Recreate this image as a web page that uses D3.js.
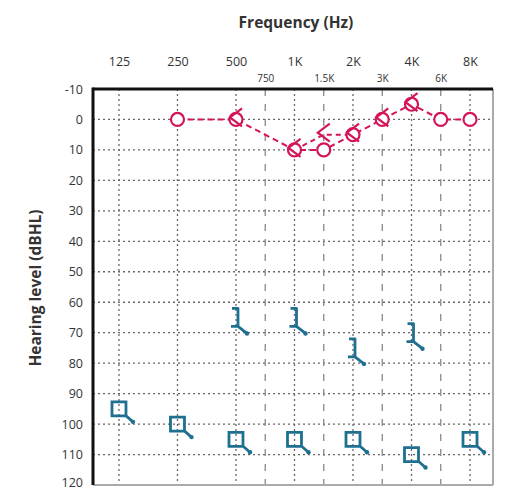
<!DOCTYPE html>
<html>
<head>
<meta charset="utf-8">
<script src="https://cdn.jsdelivr.net/npm/d3@7"></script>
<style>
  body { margin: 0; background: #fff; }
  text { font-family: "Open Sans", "Noto Sans", sans-serif; fill: #333; }
</style>
</head>
<body>
<script>
"use strict";

// octave frequencies (top row) and half-octave ones (second row)
var octaves = [125, 250, 500, 1000, 2000, 4000, 8000];
var octaveLabels = ["125", "250", "500", "1K", "2K", "4K", "8K"];
var halfOctaves = [750, 1500, 3000, 6000];
var halfLabels = ["750", "1.5K", "3K", "6K"];
var levelTicks = [-10, 0, 10, 20, 30, 40, 50, 60, 70, 80, 90, 100, 110, 120];

// right ear, air conduction (circles)
var rightAirFreq = [250, 500, 1000, 1500, 2000, 3000, 4000, 6000, 8000];
var rightAirDb = [0, 0, 10, 10, 5, 0, -5, 0, 0];
// right ear, bone conduction (<)
var rightBoneFreq = [1000, 1500, 2000];
var rightBoneDb = [10, 5, 5];
var rightBoneMarkFreq = [500, 1000, 1500, 2000, 3000, 4000];
var rightBoneMarkDb = [0, 10, 5, 5, 0, -5];
// left ear, masked bone, no response (])
var leftBoneFreq = [500, 1000, 2000, 4000];
var leftBoneDb = [65, 65, 75, 70];
// left ear, masked air, no response (square)
var leftAirFreq = [125, 250, 500, 1000, 2000, 4000, 8000];
var leftAirDb = [95, 100, 105, 105, 105, 110, 105];

var red = "#d4145a";
var blue = "#1f6f91";

// audiogram position: octave index, half-octaves sit midway
function step(f) {
  var i = octaves.indexOf(f);
  if (i >= 0) return i;
  return octaves.indexOf(f / 1.5) + 0.5;
}

window.onload = function() {
  var width = 509, height = 491;
  var left = 93, top = 89, right = 493, bottom = 485;

  var svg = d3.select("body").append("svg")
      .attr("width", width)
      .attr("height", height);

  var xs = d3.scaleLinear().domain([-0.444, 6.393]).range([left, right]);
  var x = function(f) { return xs(step(f)); };
  var y = d3.scaleLinear().domain([-10, 120]).range([top, bottom]);

  // grid
  var grid = svg.append("g");
  grid.selectAll(".hg").data(levelTicks.slice(1, -1)).enter().append("line")
      .attr("x1", left).attr("x2", right)
      .attr("y1", function(d) { return y(d); })
      .attr("y2", function(d) { return y(d); })
      .attr("stroke", "#666").attr("stroke-width", 1.3)
      .attr("stroke-dasharray", "2,3");
  grid.selectAll(".vg").data(octaves).enter().append("line")
      .attr("x1", function(d) { return x(d); })
      .attr("x2", function(d) { return x(d); })
      .attr("y1", top).attr("y2", bottom)
      .attr("stroke", "#666").attr("stroke-width", 1.3)
      .attr("stroke-dasharray", "2,3");
  grid.selectAll(".vh").data(halfOctaves).enter().append("line")
      .attr("x1", function(d) { return x(d); })
      .attr("x2", function(d) { return x(d); })
      .attr("y1", top).attr("y2", bottom)
      .attr("stroke", "#888").attr("stroke-width", 1.3)
      .attr("stroke-dasharray", "7,8");

  // frame
  svg.append("line").attr("x1", right).attr("x2", right).attr("y1", top).attr("y2", bottom)
      .attr("stroke", "#aaa").attr("stroke-width", 2);
  svg.append("line").attr("x1", left).attr("x2", right).attr("y1", bottom).attr("y2", bottom)
      .attr("stroke", "#aaa").attr("stroke-width", 2);
  svg.append("line").attr("x1", left).attr("x2", left).attr("y1", top - 1.5).attr("y2", bottom)
      .attr("stroke", "#111").attr("stroke-width", 3);
  svg.append("line").attr("x1", left).attr("x2", right).attr("y1", top).attr("y2", top)
      .attr("stroke", "#111").attr("stroke-width", 3);

  // axes text
  var topAxis = d3.axisTop(xs).tickValues(octaves.map(step))
      .tickFormat(function(d, i) { return octaveLabels[i]; }).tickSize(0).tickPadding(0);
  var gTop = svg.append("g").attr("transform", "translate(0,66)").call(topAxis);
  gTop.select(".domain").remove();
  gTop.selectAll("text").style("font-size", "12.5px").attr("fill", "#333");

  var halfAxis = d3.axisTop(xs).tickValues(halfOctaves.map(step))
      .tickFormat(function(d, i) { return halfLabels[i]; }).tickSize(0).tickPadding(0);
  var gHalf = svg.append("g").attr("transform", "translate(0,82)").call(halfAxis);
  gHalf.select(".domain").remove();
  gHalf.selectAll("text").style("font-size", "10px").attr("fill", "#333");

  var leftAxis = d3.axisLeft(y).tickValues(levelTicks)
      .tickFormat(function(d) { return String(d); }).tickSize(0).tickPadding(10);
  var gLeft = svg.append("g").attr("transform", "translate(" + left + ",0)").call(leftAxis);
  gLeft.select(".domain").remove();
  gLeft.selectAll("text").style("font-size", "12.5px").attr("fill", "#333")
      .attr("dy", function(d) { return d === 120 ? "0.1em" : "0.32em"; });

  svg.append("text").attr("x", 296).attr("y", 28).attr("text-anchor", "middle")
      .style("font-size", "15.5px").style("font-weight", "bold").text("Frequency (Hz)");
  svg.append("text").attr("transform", "translate(41,288) rotate(-90)")
      .attr("text-anchor", "middle")
      .style("font-size", "15.5px").style("font-weight", "bold").text("Hearing level (dBHL)");

  // right ear lines
  var line = d3.line().x(function(d) { return x(d[0]); }).y(function(d) { return y(d[1]); });
  var air = d3.zip(rightAirFreq, rightAirDb);
  var bone = d3.zip(rightBoneFreq, rightBoneDb);
  svg.append("path").attr("d", line(air)).attr("fill", "none")
      .attr("stroke", red).attr("stroke-width", 2).attr("stroke-dasharray", "6,4");
  svg.append("path").attr("d", line(bone)).attr("fill", "none")
      .attr("stroke", red).attr("stroke-width", 2).attr("stroke-dasharray", "5,4");

  // circles
  svg.selectAll(".air").data(air).enter().append("circle")
      .attr("cx", function(d) { return x(d[0]); })
      .attr("cy", function(d) { return y(d[1]); })
      .attr("r", 6.5).attr("fill", "#fff")
      .attr("stroke", red).attr("stroke-width", 2.2);

  // bone < symbols
  svg.selectAll(".bone").data(d3.zip(rightBoneMarkFreq, rightBoneMarkDb)).enter().append("path")
      .attr("transform", function(d) { return "translate(" + (x(d[0]) - 2) + "," + (y(d[1]) - 2) + ")"; })
      .attr("d", "M8,-9 L-4,0 L8,9")
      .attr("fill", "none").attr("stroke", red).attr("stroke-width", 2.2);

  // left bone ] with arrow
  var lbone = d3.zip(leftBoneFreq, leftBoneDb);
  svg.selectAll(".lbone").data(lbone).enter().append("path")
      .attr("transform", function(d) { return "translate(" + x(d[0]) + "," + y(d[1]) + ")"; })
      .attr("d", "M-4,-9 L2,-9 L2,9 L-5,9 M2,9 L11,16")
      .attr("fill", "none").attr("stroke", blue).attr("stroke-width", 2.8)
      .attr("stroke-linejoin", "round");
  svg.selectAll(".lbonehead").data(lbone).enter().append("circle")
      .attr("cx", function(d) { return x(d[0]) + 11; })
      .attr("cy", function(d) { return y(d[1]) + 16; })
      .attr("r", 2.2).attr("fill", blue);

  // left air squares with arrow
  var lair = d3.zip(leftAirFreq, leftAirDb);
  svg.selectAll(".lair").data(lair).enter().append("path")
      .attr("transform", function(d) { return "translate(" + x(d[0]) + "," + y(d[1]) + ")"; })
      .attr("d", "M-7,-7 L7,-7 L7,7 L-7,7 Z M6,6 L14,13")
      .attr("fill", "none").attr("stroke", blue).attr("stroke-width", 2.8);
  svg.selectAll(".lairhead").data(lair).enter().append("circle")
      .attr("cx", function(d) { return x(d[0]) + 14; })
      .attr("cy", function(d) { return y(d[1]) + 13; })
      .attr("r", 2.2).attr("fill", blue);
};
</script>
</body>
</html>
